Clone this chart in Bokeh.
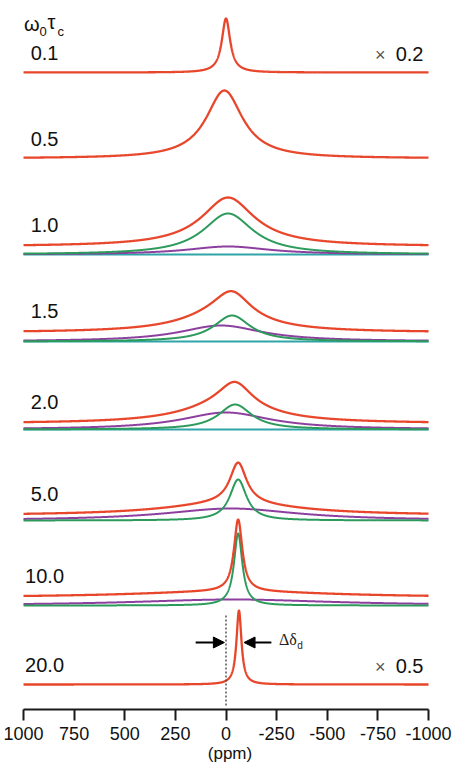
import numpy as np
from bokeh.plotting import figure
from bokeh.models import Range1d, FixedTicker, Arrow, NormalHead
from bokeh.core.properties import value
from bokeh.embed import file_html
from bokeh.resources import INLINE

# ---------------- data ----------------
ppm_ticks = [1000, 750, 500, 250, 0, -250, -500, -750, -1000]
tick_labels = ["1000", "750", "500", "250", "0", "-250", "-500", "-750", "-1000"]
tau_labels = ["0.1", "0.5", "1.0", "1.5", "2.0", "5.0", "10.0", "20.0"]

# single-line spectra: 0.1, 0.5, 20.0  (red only)
single_tau = ["0.1", "0.5", "20.0"]
single_base = [637, 551, 25]
single_center = [0, 8, -64]
single_fwhm = [50, 220, 30]
single_height = [54, 68, 74]
scale_tau = ["0.1", "20.0"]
scale_factor = ["0.2", "0.5"]

# decomposed spectra: 1.0, 1.5, 2.0, 5.0, 10.0
comp_tau = ["1.0", "1.5", "2.0", "5.0", "10.0"]
comp_base = [455, 368, 280, 189, 104]
red_gap = [8, 9, 6, 5, 8]
green_center = [-10, -30, -45, -60, -60]
green_fwhm = [300, 220, 200, 100, 50]
green_height = [41, 26, 25, 41, 72]
purple_center = [-10, 25, 0, -25, -35]
purple_fwhm = [500, 500, 540, 800, 1200]
purple_height = [8, 16, 17, 12, 6]
cyan_shown = [True, True, True, False, False]

ref_shift = 0        # isotropic reference (dotted line)
delta_d = -64        # shifted peak position at 20.0

RED = "#e8462b"
GREEN = "#2b9a5b"
PURPLE = "#8c3f9e"
CYAN = "#2fa5a8"
FONT = "Liberation Sans"

xs = np.linspace(-1000, 1000, 4001)


def lorentz(c, fwhm, h):
    return h / (1.0 + ((xs - c) / (fwhm / 2.0)) ** 2)


p = figure(frame_width=459, frame_height=709,
           x_range=Range1d(1113.6, -1153.0), y_range=Range1d(0, 709),
           y_axis_location=None, toolbar_location=None, output_backend="svg",
           min_border_left=0, min_border_right=0, min_border_top=0,
           min_border_bottom=61)
p.outline_line_color = None
p.xgrid.visible = False
p.ygrid.visible = False
p.background_fill_color = "white"
p.border_fill_color = "white"

label_y = {}

for tau, b, c, w, h in zip(single_tau, single_base, single_center, single_fwhm, single_height):
    y = b + lorentz(c, w, h)
    p.line(xs, y, line_color=RED, line_width=2.3)
    label_y[tau] = b

for i, tau in enumerate(comp_tau):
    b = comp_base[i]
    g = lorentz(green_center[i], green_fwhm[i], green_height[i])
    pu = lorentz(purple_center[i], purple_fwhm[i], purple_height[i])
    if cyan_shown[i]:
        p.line(xs, np.full_like(xs, b), line_color=CYAN, line_width=2)
    p.line(xs, b + pu, line_color=PURPLE, line_width=2)
    p.line(xs, b + g, line_color=GREEN, line_width=2)
    red = b + red_gap[i] + g + pu
    p.line(xs, red, line_color=RED, line_width=2.3)
    label_y[tau] = red[0]

# left labels
p.text(x=[896] * len(tau_labels), y=[label_y[t] + 20 for t in tau_labels], text=tau_labels,
       text_font=value(FONT), text_font_size="20px", text_align="center",
       text_baseline="middle", text_color="#111111")

# omega0 tau_c header
p.text(x=[997], y=[686], text=["ω"], text_font=value(FONT), text_font_size="20px",
       text_baseline="middle", text_color="#111111")
p.text(x=[921], y=[678], text=["0"], text_font=value(FONT), text_font_size="13px",
       text_baseline="middle", text_color="#111111")
p.text(x=[882], y=[688], text=["τ"], text_font=value(FONT), text_font_size="20px",
       text_baseline="middle", text_color="#111111")
p.text(x=[832], y=[678], text=["c"], text_font=value(FONT), text_font_size="13px",
       text_baseline="middle", text_color="#111111")

# scale factors
for tau, f in zip(scale_tau, scale_factor):
    yy = label_y[tau] + 19
    p.text(x=[-975], y=[yy], text=[f], text_font=value(FONT), text_font_size="20px",
           text_align="right", text_baseline="middle", text_color="#111111")
    p.text(x=[-788], y=[yy - 1], text=["×"], text_font=value(FONT), text_font_size="18px",
           text_align="right", text_baseline="middle", text_color="#555555")

# dotted reference line and arrows
p.segment(x0=[ref_shift], y0=[4], x1=[ref_shift], y1=[95], line_color="#555555",
          line_width=1.5, line_dash="2 2")
p.add_layout(Arrow(end=NormalHead(size=11, fill_color="black", line_color="black"),
                   x_start=ref_shift + 150, y_start=67, x_end=ref_shift + 8, y_end=67,
                   line_width=2, line_color="black"))
p.add_layout(Arrow(end=NormalHead(size=11, fill_color="black", line_color="black"),
                   x_start=delta_d - 160, y_start=67, x_end=delta_d - 25, y_end=67,
                   line_width=2, line_color="black"))
p.text(x=[-262], y=[70], text=["Δδ"], text_font=value("Liberation Serif"), text_font_size="16px",
       text_baseline="middle", text_color="#222222")
p.text(x=[-352], y=[64], text=["d"], text_font=value(FONT), text_font_size="10px",
       text_baseline="middle", text_color="#222222")

# axis
ax = p.xaxis[0]
ax.ticker = FixedTicker(ticks=ppm_ticks)
ax.major_label_overrides = {t: l for t, l in zip(ppm_ticks, tick_labels)}
ax.bounds = (-1000, 1000)
ax.axis_line_width = 2
ax.axis_line_color = "#1a1a1a"
ax.major_tick_line_width = 2
ax.major_tick_line_color = "#1a1a1a"
ax.major_tick_out = 11
ax.major_tick_in = 0
ax.minor_tick_out = 0
ax.minor_tick_in = 0
ax.major_label_text_font = FONT
ax.major_label_text_font_size = "18px"
ax.major_label_text_color = "#111111"
ax.major_label_standoff = 6
ax.axis_label = "(ppm)"
ax.axis_label_text_font = FONT
ax.axis_label_text_font_size = "17px"
ax.axis_label_text_font_style = "normal"
ax.axis_label_text_color = "#111111"
ax.axis_label_standoff = 1

open("out.html", "w").write(file_html(p, INLINE))
